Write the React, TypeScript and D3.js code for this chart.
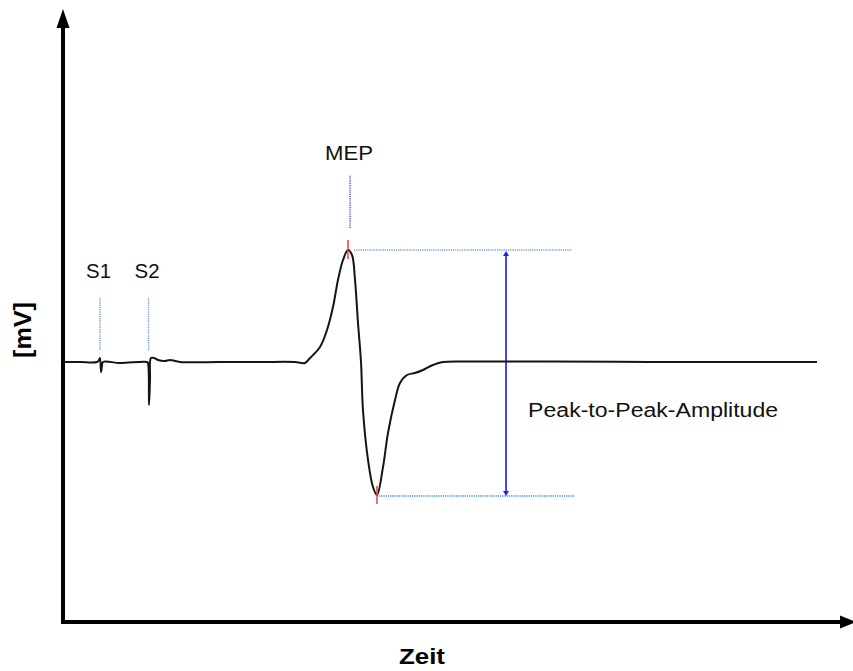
import React from "react";
import * as d3 from "d3";

// Time (ms) and voltage (mV) of the MEP trace
const timeMs = [
  0, 2.15, 4.31, 4.56, 4.69, 4.82, 4.94, 5.07, 7.22, 10.65, 10.77, 10.9, 11.03, 11.15, 11.53, 12.04, 12.93,
  13.56, 14.83, 19.9, 24.97, 29.4, 30.67, 31.31, 32.57, 33.46, 34.22, 34.85, 35.49, 36.12, 36.63, 37.01,
  37.39, 37.77, 38.02, 38.66, 39.29, 39.8, 40.56, 41.19, 42.08, 42.71, 43.6, 44.61, 45.63, 46.89, 48.16,
  51.58, 61.72, 74.4, 87.07, 95.56,
];
const voltage = [
  0, 0, 0, 0.04, 0.08, -0.2, -0.08, 0, -0.02, 0, -0.02, -0.86, -0.36, 0.08, 0.08, 0.04, 0.02,
  0.04, 0, 0, 0, 0, -0.02, 0.08, 0.3, 0.64, 1.1, 1.64, 2.04, 2.24, 2.14, 1.64,
  0.78, 0, -0.96, -1.96, -2.5, -2.66, -2.1, -1.42, -0.76, -0.42, -0.26, -0.22, -0.16, -0.06, 0,
  0.01, 0.01, 0, 0, 0,
];

// Annotations
const stimulusLabels = ["S1", "S2"];
const stimulusTimes = [4.69, 10.84];
const stimulusMarkRange = [0.24, 1.3]; // mV extent of dotted stimulus markers
const stimulusLabelV = 1.68;
const mepLabel = "MEP";
const mepMarkTime = 36.38;
const mepMarkRange = [2.68, 3.74];
const mepLabelV = 4.04;
const peakIndex = 29;
const troughIndex = 37;
const refLineEndTimes = [64.5, 64.9];
const amplitudeArrowTime = 56.15;
const amplitudeLabel = "Peak-to-Peak-Amplitude";
const amplitudeLabelPos = [58.95, -1.1];
const xAxisLabel = "Zeit";
const yAxisLabel = "[mV]";

const W = 853;
const H = 671;

export default function App() {
  const x = d3.scaleLinear().domain([0, 100]).range([63, 852]);
  const y = d3.scaleLinear().domain([-5.2, 7.0]).range([622, 12]);

  const pts: [number, number][] = timeMs.map((t, i) => [t, voltage[i]]);
  const line = d3
    .line<[number, number]>()
    .x((d) => x(d[0]))
    .y((d) => y(d[1]))
    .curve(d3.curveCatmullRom.alpha(0.5));

  const px = x(timeMs[peakIndex]);
  const py = y(voltage[peakIndex]);
  const tx = x(timeMs[troughIndex]);
  const ty = y(voltage[troughIndex]);
  const ax = x(amplitudeArrowTime);

  const font = "'Liberation Sans', Arial, Helvetica, sans-serif";
  const axisX = x(0);
  const axisY = 622;

  return (
    <svg
      width={W}
      height={H}
      style={{ position: "absolute", left: 0, top: 0, background: "#fff" }}
    >
      {/* axes */}
      <line x1={axisX} x2={axisX} y1={axisY + 2} y2={26} stroke="#000" strokeWidth={4} />
      <path d={`M${axisX - 6.5},${28} L${axisX},${9} L${axisX + 6.5},${28} Z`} fill="#000" />
      <line x1={axisX - 2} x2={842} y1={axisY} y2={axisY} stroke="#000" strokeWidth={4} />
      <path d={`M${840},${axisY - 6.5} L${856},${axisY} L${840},${axisY + 6.5} Z`} fill="#000" />

      {/* stimulus markers */}
      {stimulusTimes.map((t, i) => (
        <g key={stimulusLabels[i]}>
          <line
            x1={x(t)}
            x2={x(t)}
            y1={y(stimulusMarkRange[0])}
            y2={y(stimulusMarkRange[1])}
            stroke="#6f9cf5"
            strokeWidth={1.5}
            strokeDasharray="1.2,1"
          />
          <text
            x={x(t) - 1.5}
            y={y(stimulusLabelV)}
            textAnchor="middle"
            fontFamily={font}
            fontSize={20}
            fill="#111"
            textLength={25}
            lengthAdjust="spacingAndGlyphs"
          >
            {stimulusLabels[i]}
          </text>
        </g>
      ))}

      {/* MEP marker */}
      <line
        x1={x(mepMarkTime)}
        x2={x(mepMarkTime)}
        y1={y(mepMarkRange[0])}
        y2={y(mepMarkRange[1])}
        stroke="#3b3bf0"
        strokeWidth={1.3}
        strokeDasharray="1.2,1"
      />
      <text
        x={x(mepMarkTime) - 1}
        y={y(mepLabelV)}
        textAnchor="middle"
        fontFamily={font}
        fontSize={21}
        fill="#111"
        textLength={48}
        lengthAdjust="spacingAndGlyphs"
      >
        {mepLabel}
      </text>

      {/* reference lines */}
      <line
        x1={px + 6}
        x2={x(refLineEndTimes[0])}
        y1={py}
        y2={py}
        stroke="#6f9cf5"
        strokeWidth={1.5}
        strokeDasharray="1.2,1"
      />
      <line
        x1={tx + 2}
        x2={x(refLineEndTimes[1])}
        y1={ty + 1}
        y2={ty + 1}
        stroke="#3d8cf5"
        strokeWidth={1.5}
        strokeDasharray="1.2,1"
      />

      {/* amplitude arrow */}
      <line x1={ax} x2={ax} y1={py + 4} y2={ty - 2} stroke="#3434f5" strokeWidth={1.8} />
      <path d={`M${ax - 3},${py + 6} L${ax},${py + 1} L${ax + 3},${py + 6} Z`} fill="#2222ee" />
      <path d={`M${ax - 3},${ty - 4} L${ax},${ty + 1} L${ax + 3},${ty - 4} Z`} fill="#2222ee" />
      <text
        x={x(amplitudeLabelPos[0])}
        y={y(amplitudeLabelPos[1])}
        fontFamily={font}
        fontSize={20}
        fill="#111"
        textLength={250}
        lengthAdjust="spacingAndGlyphs"
      >
        {amplitudeLabel}
      </text>

      {/* trace */}
      <path d={line(pts) ?? ""} fill="none" stroke="#151515" strokeWidth={2} strokeLinejoin="round" />

      {/* red peak marks */}
      <line x1={px} x2={px} y1={py - 10} y2={py + 9} stroke="#f03a3a" strokeWidth={1.5} />
      <line x1={tx} x2={tx} y1={ty - 9} y2={ty + 9} stroke="#f03a3a" strokeWidth={1.5} />

      {/* axis labels */}
      <text
        x={422}
        y={664}
        textAnchor="middle"
        fontFamily={font}
        fontWeight="bold"
        fontSize={22}
        fill="#000"
        textLength={46}
        lengthAdjust="spacingAndGlyphs"
      >
        {xAxisLabel}
      </text>
      <text
        transform={`translate(31,330) rotate(-90)`}
        textAnchor="middle"
        fontFamily={font}
        fontWeight="bold"
        fontSize={23}
        fill="#000"
        textLength={56}
        lengthAdjust="spacingAndGlyphs"
      >
        {yAxisLabel}
      </text>
    </svg>
  );
}
